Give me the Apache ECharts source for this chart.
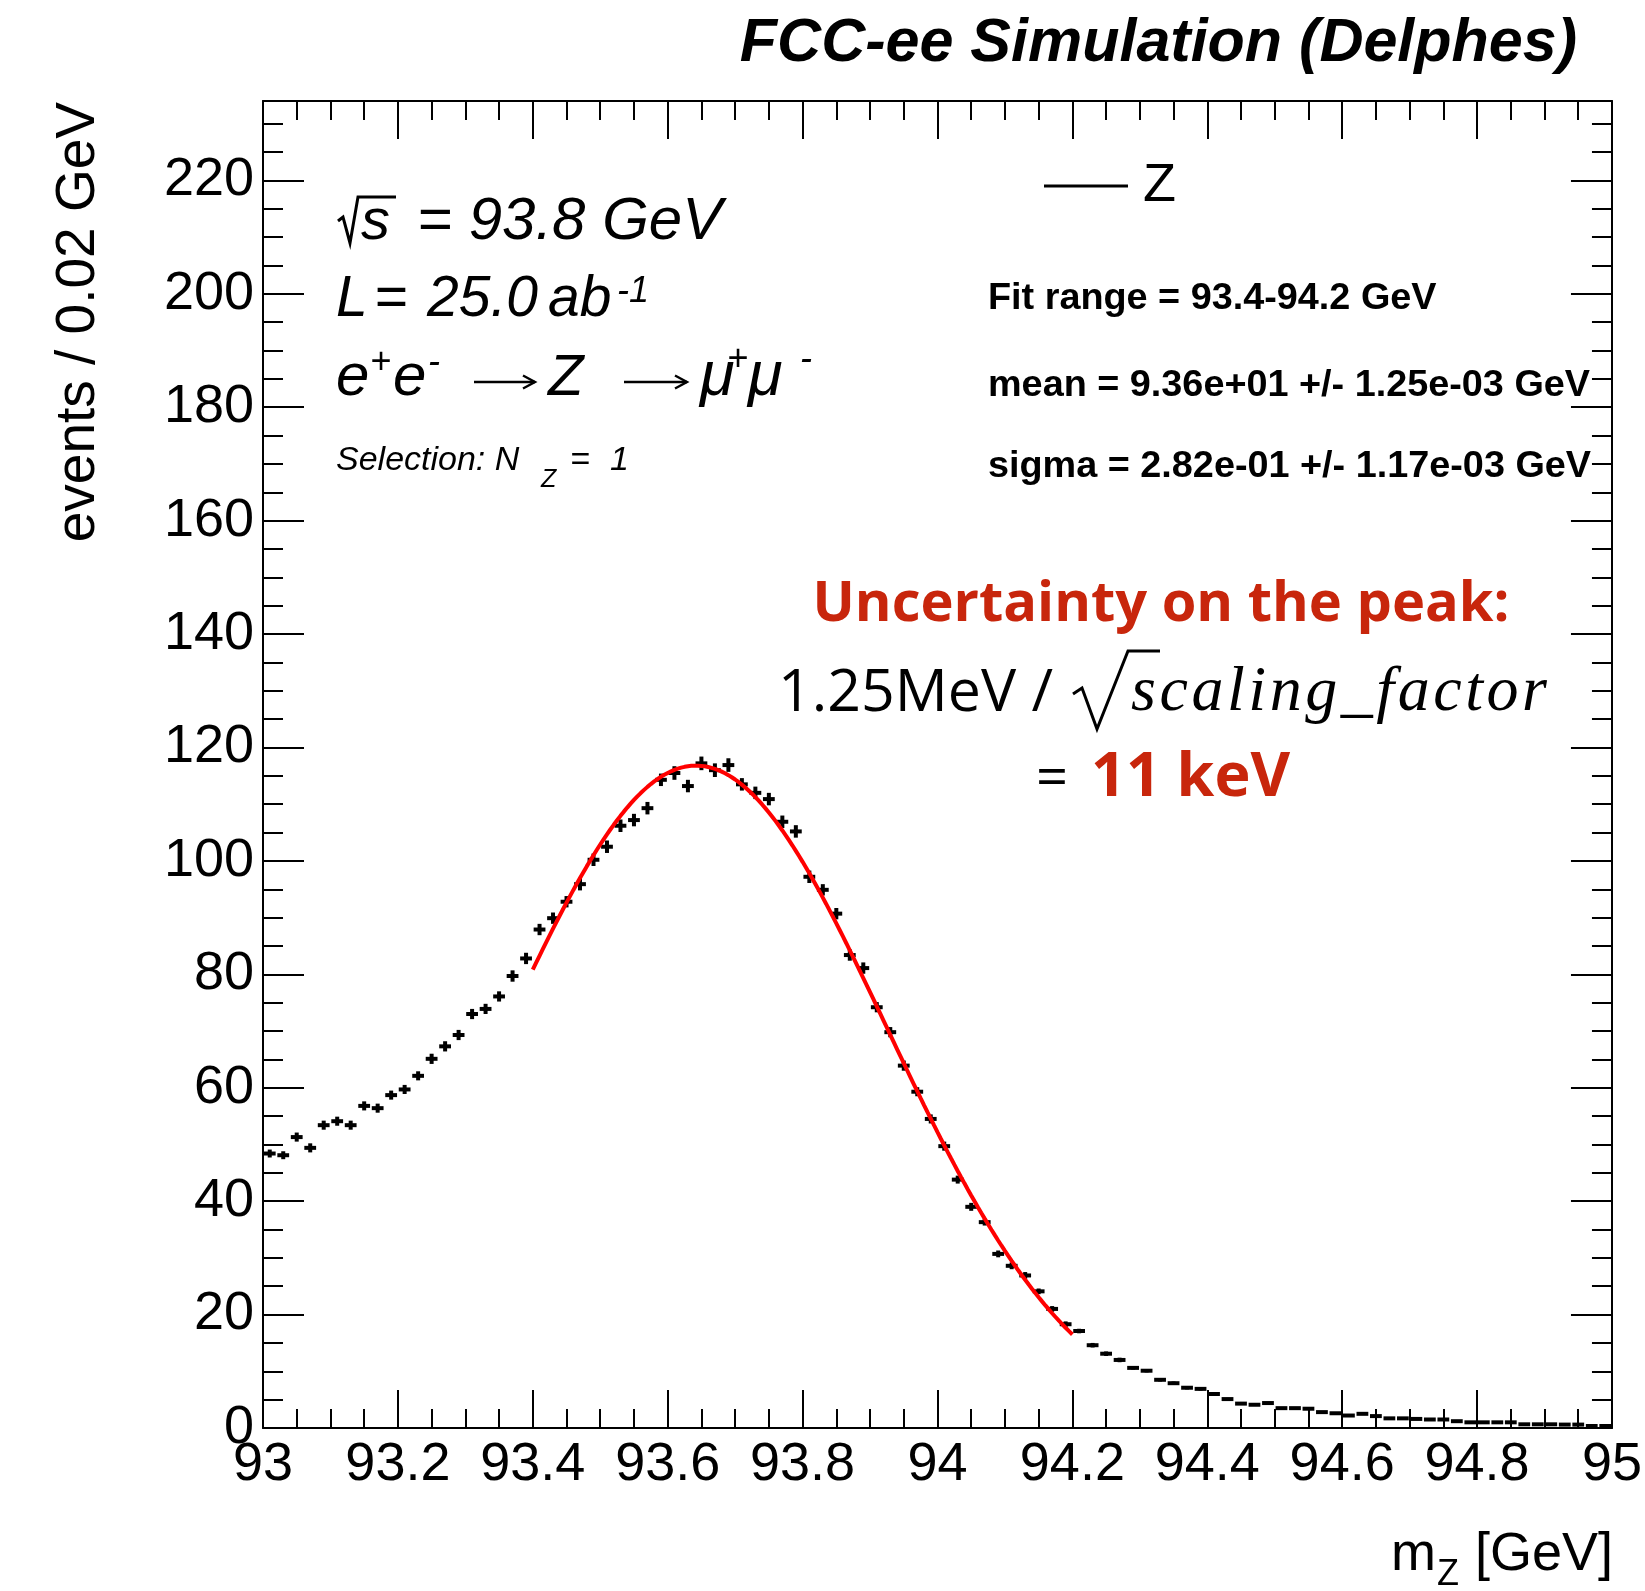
<!DOCTYPE html>
<html>
<head>
<meta charset="utf-8">
<script src="https://cdn.jsdelivr.net/npm/echarts@6/dist/echarts.min.js"></script>
<style>
  html, body { margin: 0; padding: 0; background: #ffffff; }
  #chart { width: 1645px; height: 1591px; }
</style>
</head>
<body>
<div id="chart"></div>
<script>
// ---- Histogram: m_Z, 100 bins of 0.02 GeV from 93 to 95 GeV ----
const BIN_LOW = 93.0;
const BIN_WIDTH = 0.02;

const counts = [
  48.4, 48.1, 51.3, 49.4, 53.4, 54.1, 53.4, 56.8, 56.4, 58.7,
  59.7, 62.1, 65.1, 67.3, 69.3, 73.0, 73.9, 76.1, 79.7, 82.8,
  87.9, 89.9, 92.8, 95.9, 100.2, 102.5, 106.2, 107.2, 109.3, 114.3,
  115.5, 113.2, 117.2, 116.0, 116.9, 113.5, 112.0, 110.9, 106.9, 105.2,
  97.2, 94.9, 90.7, 83.4, 81.1, 74.2, 69.8, 63.9, 59.3, 54.5,
  49.7, 43.8, 39.0, 36.3, 30.7, 28.6, 26.9, 24.1, 21.0, 18.3,
  17.1, 14.6, 13.1, 12.0, 10.6, 10.1, 8.5, 7.9, 7.1, 6.9,
  6.0, 5.1, 4.3, 4.1, 4.4, 3.5, 3.5, 3.4, 2.8, 2.6,
  2.2, 2.5, 2.1, 1.7, 1.7, 1.6, 1.5, 1.5, 1.2, 1.0,
  1.0, 1.0, 1.0, 0.65, 0.65, 0.65, 0.6, 0.6, 0.35, 0.35
];

// Per-bin statistical uncertainty (half length of the vertical error bar)
const countErrors = [
  0.7, 0.7, 0.8, 0.8, 0.8, 0.8, 0.8, 0.8, 0.8, 0.8,
  0.8, 0.8, 0.9, 0.9, 0.9, 0.9, 0.9, 0.9, 1.0, 1.0,
  1.0, 1.0, 1.0, 1.1, 1.1, 1.1, 1.1, 1.1, 1.1, 1.1,
  1.2, 1.1, 1.2, 1.2, 1.2, 1.1, 1.1, 1.1, 1.1, 1.1,
  1.1, 1.0, 1.0, 1.0, 1.0, 0.9, 0.9, 0.9, 0.8, 0.8,
  0.8, 0.7, 0.7, 0.6, 0.6, 0.6, 0.6, 0.5, 0.5, 0.5,
  0.4, 0.4, 0.4, 0.4, 0.3, 0.3, 0.3, 0.3, 0.3, 0.3,
  0.3, 0.2, 0.2, 0.2, 0.2, 0.2, 0.2, 0.2, 0.2, 0.2,
  0.2, 0.2, 0.2, 0.1, 0.1, 0.1, 0.1, 0.1, 0.1, 0.1,
  0.1, 0.1, 0.1, 0.1, 0.1, 0.1, 0.1, 0.1, 0.1, 0.1
];

// ---- Gaussian fit result ----
const fitRange = [93.4, 94.2];
const fitMean = 93.642;
const fitSigma = 0.282;
const fitAmplitude = 116.8;

// ---- Axes ----
const xRange = [93, 95];
const yRange = [0, 234];
const xMajorStep = 0.2, xMinorStep = 0.05;
const yMajorStep = 20, yMinorStep = 5;

// ---- Text ----
const titleText = 'FCC-ee Simulation (Delphes)';
const yTitle = 'events / 0.02 GeV';
const legendLabel = 'Z';
const fitLines = [
  'Fit range = 93.4-94.2 GeV',
  'mean = 9.36e+01 +/- 1.25e-03 GeV',
  'sigma = 2.82e-01 +/- 1.17e-03 GeV'
];

const SANS = '"Liberation Sans", Arial, Helvetica, sans-serif';
const SERIF = '"Liberation Serif", "Times New Roman", serif';
const GEO = '"Open Sans", Lato, sans-serif';
const RED = '#c8260c';
// distance from canvas "middle" baseline to alphabetic baseline, in em
const MID = { [SANS]: 0.347, [SERIF]: 0.338, [GEO]: 0.388 };

const histData = counts.map((v, i) => [BIN_LOW + BIN_WIDTH * (i + 0.5), v, countErrors[i]]);

const fitData = [];
for (let k = 0; k <= 160; k++) {
  const x = fitRange[0] + (fitRange[1] - fitRange[0]) * k / 160;
  const d = (x - fitMean) / fitSigma;
  fitData.push([x, fitAmplitude * Math.exp(-0.5 * d * d)]);
}

function fontStr(size, o) {
  return (o.italic ? 'italic ' : 'normal ') + (o.bold ? 'bold ' : 'normal ') + size + 'px ' + (o.family || SANS);
}
// text anchored on its alphabetic baseline
function txt(x, baseline, text, size, o) {
  o = o || {};
  const fam = o.family || SANS;
  const align = o.align || 'left';
  return {
    type: 'text', z: 100, silent: true,
    style: {
      text: text, x: x, y: baseline - MID[fam] * size,
      font: fontStr(size, o),
      fill: o.color || '#000',
      align: align, textAlign: align,
      verticalAlign: 'middle', textVerticalAlign: 'middle'
    }
  };
}
// text spread out to a given total width (math-italic style spacing)
const measureCtx = document.createElement('canvas').getContext('2d');
function spacedTxt(x, baseline, text, size, o, totalWidth) {
  measureCtx.font = fontStr(size, o);
  const widths = Array.from(text).map(ch => measureCtx.measureText(ch).width);
  const natural = widths.reduce((a, b) => a + b, 0);
  const extra = (totalWidth - natural) / Math.max(1, text.length - 1);
  const out = [];
  let cx = x;
  Array.from(text).forEach((ch, i) => {
    out.push(txt(cx, baseline, ch, size, o));
    cx += widths[i] + extra;
  });
  return out;
}
function poly(points, width, color) {
  return {
    type: 'polyline', z: 100, silent: true,
    shape: { points: points },
    style: { stroke: color || '#000', lineWidth: width, fill: null, lineJoin: 'miter' }
  };
}
function arrow(x1, x2, y) {
  return [
    poly([[x1, y], [x2, y]], 2.4),
    poly([[x2 - 12, y - 6.5], [x2, y], [x2 - 12, y + 6.5]], 2.4)
  ];
}

const AXIS_LINE = { show: true, onZero: false, lineStyle: { color: '#000', width: 2 } };
const NO_LINE = { show: false, onZero: false };
function xAxisDef(position, step, tickLen, withLabels) {
  return {
    type: 'value', position: position, min: xRange[0], max: xRange[1], interval: step,
    axisLine: withLabels !== null ? AXIS_LINE : NO_LINE,
    axisTick: { show: true, inside: true, length: tickLen, lineStyle: { color: '#000', width: 2 } },
    axisLabel: withLabels ? { show: true, fontSize: 54, fontFamily: SANS, color: '#000', margin: 10 } : { show: false },
    splitLine: { show: false }
  };
}
function yAxisDef(position, step, tickLen, withLabels) {
  return {
    type: 'value', position: position, min: yRange[0], max: yRange[1], interval: step,
    axisLine: withLabels !== null ? AXIS_LINE : NO_LINE,
    axisTick: { show: true, inside: true, length: tickLen, lineStyle: { color: '#000', width: 2 } },
    axisLabel: withLabels ? {
      show: true, fontSize: 54, fontFamily: SANS, color: '#000', margin: 9,
      formatter: v => (v % yMajorStep === 0 ? String(v) : '')
    } : { show: false },
    splitLine: { show: false }
  };
}

const chart = echarts.init(document.getElementById('chart'), null, { renderer: 'canvas' });

const graphics = [
  // title
  txt(1577, 65, titleText, 61, { bold: true, italic: true, align: 'right' }),
  // y-axis title (rotated)
  {
    type: 'text', z: 100, silent: true, x: 79, y: 102, rotation: Math.PI / 2,
    style: {
      text: yTitle, x: 0, y: 0, font: 'normal normal 55px ' + SANS, fill: '#000',
      align: 'right', textAlign: 'right', verticalAlign: 'middle', textVerticalAlign: 'middle'
    }
  },
  // x-axis title: m_Z [GeV]
  txt(1613, 1574, '[GeV]', 54, { align: 'right' }),
  txt(1436, 1574, 'm', 54, { align: 'right' }),
  txt(1437, 1588, 'Z', 36),

  // sqrt(s) = 93.8 GeV
  poly([[338, 221], [343, 217], [350, 243], [358, 197], [396, 197]], 3),
  txt(361, 243, 's', 58, { italic: true }),
  txt(417, 243, '= 93.8 GeV', 60, { italic: true }),
  // L = 25.0 ab^-1
  txt(336, 320, 'L', 57, { italic: true }),
  txt(374, 320, '=', 57, { italic: true }),
  txt(427, 320, '25.0', 57, { italic: true }),
  txt(548, 320, 'ab', 57, { italic: true }),
  txt(617, 304, '-1', 36, { italic: true }),
  // e+e- -> Z -> mu+mu-
  txt(336, 399, 'e', 60, { italic: true }),
  txt(370, 375, '+', 36, { italic: true }),
  txt(393, 399, 'e', 60, { italic: true }),
  txt(428, 375, '-', 36, { italic: true }),
  ...arrow(474, 535, 382),
  txt(548, 399, 'Z', 58, { italic: true }),
  ...arrow(624, 687, 382),
  txt(700, 399, '\u03bc', 63, { italic: true }),
  txt(727, 372, '+', 36, { italic: true }),
  txt(748, 399, '\u03bc', 63, { italic: true }),
  txt(800, 372, '-', 36, { italic: true }),
  // Selection: N_Z = 1
  txt(336, 472, 'Selection: N', 34, { italic: true }),
  txt(541, 489, 'Z', 25, { italic: true }),
  txt(570, 472, '=', 34, { italic: true }),
  txt(610, 472, '1', 34, { italic: true }),

  // legend
  poly([[1044, 186], [1128, 186]], 3),
  txt(1143, 205, legendLabel, 54),

  // fit summary
  txt(988, 312, fitLines[0], 37.8, { bold: true }),
  txt(988, 399, fitLines[1], 37.8, { bold: true }),
  txt(988, 480, fitLines[2], 37.8, { bold: true }),

  // peak uncertainty note
  txt(1161, 627, 'Uncertainty on the peak:', 56, { family: GEO, bold: true, color: RED, align: 'center' }),
  txt(778, 717, '1.25MeV /', 59, { family: GEO }),
  poly([[1073, 694], [1082, 688], [1097, 729], [1128, 651], [1160, 651]], 3),
  ...spacedTxt(1131, 715, 'scaling_factor', 64, { family: SERIF, italic: true }, 416),
  txt(1036, 802, '=', 56, { family: GEO }),
  txt(1091, 802, '11 keV', 61, { family: GEO, bold: true, color: RED })
];

chart.setOption({
  animation: false,
  backgroundColor: '#ffffff',
  grid: { left: 263, right: 31, top: 101, bottom: 163, containLabel: false },
  xAxis: [
    xAxisDef('bottom', xMajorStep, 38, true),
    xAxisDef('bottom', xMinorStep, 19, null),
    xAxisDef('top', xMajorStep, 38, false),
    xAxisDef('top', xMinorStep, 19, null)
  ],
  yAxis: [
    yAxisDef('left', yMajorStep, 41, true),
    yAxisDef('left', yMinorStep, 20, null),
    yAxisDef('right', yMajorStep, 41, false),
    yAxisDef('right', yMinorStep, 20, null)
  ],
  series: [
    {
      name: 'Z',
      type: 'custom',
      xAxisIndex: 0, yAxisIndex: 0,
      encode: { x: 0, y: 1 },
      data: histData,
      z: 5,
      renderItem: function (params, api) {
        const x = api.value(0), y = api.value(1), e = api.value(2);
        const c = api.coord([x, y]);
        const hi = api.coord([x, y + e]);
        const lo = api.coord([x, y - e]);
        const hw = 5.9;
        const st = { stroke: '#000', lineWidth: 4 };
        return {
          type: 'group',
          children: [
            { type: 'line', shape: { x1: c[0] - hw, y1: c[1], x2: c[0] + hw, y2: c[1] }, style: st },
            { type: 'line', shape: { x1: c[0], y1: hi[1], x2: c[0], y2: lo[1] }, style: st }
          ]
        };
      }
    },
    {
      name: 'fit',
      type: 'line',
      xAxisIndex: 0, yAxisIndex: 0,
      data: fitData,
      showSymbol: false,
      smooth: false,
      z: 10,
      lineStyle: { color: '#ff0000', width: 4 }
    }
  ],
  graphic: graphics
});
</script>
</body>
</html>
